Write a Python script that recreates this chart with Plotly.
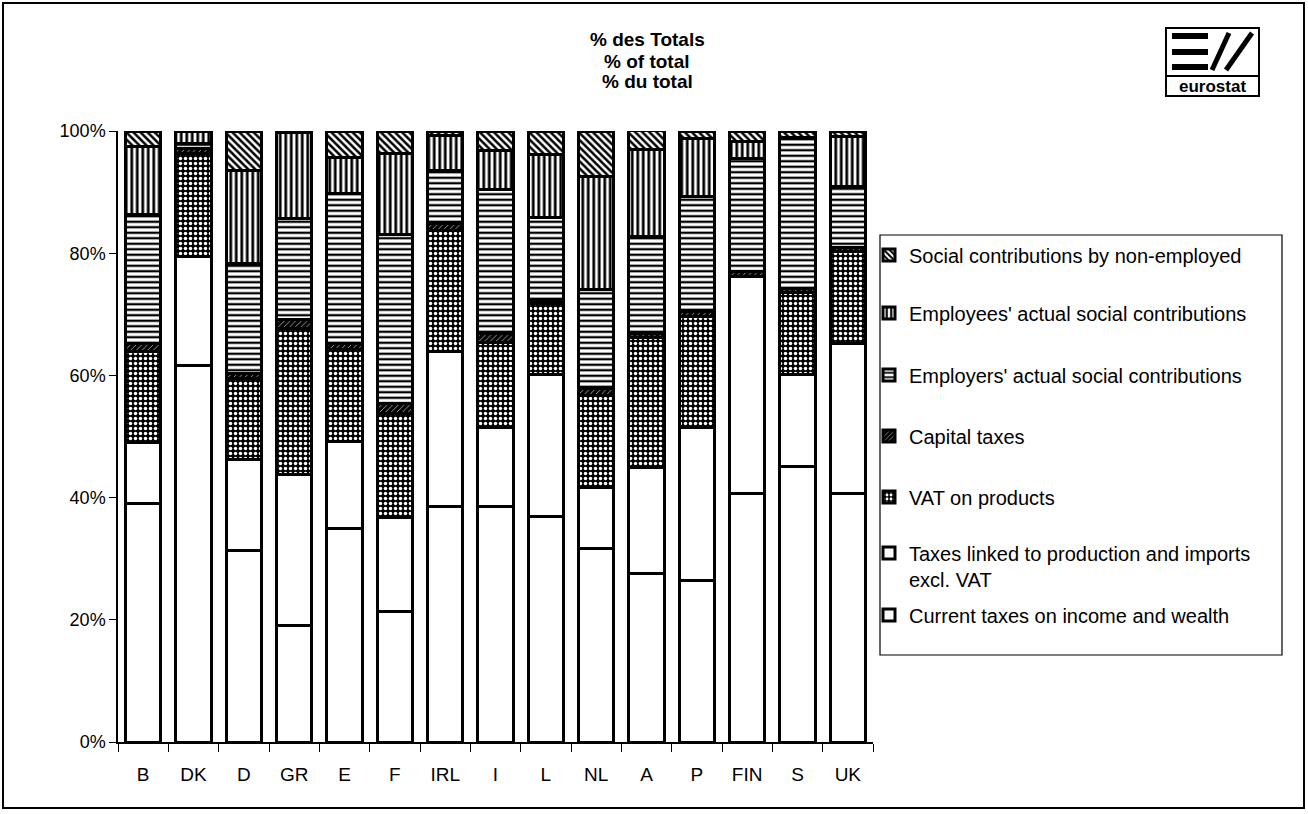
import plotly.graph_objects as go

# ---------------- data (percent of total) ----------------
countries = ["B", "DK", "D", "GR", "E", "F", "IRL", "I", "L", "NL", "A", "P", "FIN", "S", "UK"]

income_wealth   = [39.1, 61.7, 31.4, 19.1, 35.0, 21.3, 38.5, 38.5, 36.9, 31.7, 27.6, 26.5, 40.7, 45.1, 40.7]
prod_imports    = [10.0, 17.7, 14.8, 24.6, 14.2, 15.5, 25.4, 13.0, 23.3, 10.0, 17.3, 25.0, 35.5, 15.0, 24.5]
vat_products    = [14.8, 17.0, 13.3, 24.0, 15.0, 17.0, 19.8, 13.9, 11.5, 15.0, 21.3, 18.1, 0.0, 13.5, 15.0]
capital_taxes   = [1.4, 0.8, 0.8, 1.4, 1.0, 1.6, 1.2, 1.4, 0.5, 1.2, 0.6, 0.8, 0.8, 0.6, 0.8]
employers_contr = [21.0, 0.8, 18.0, 16.6, 24.6, 27.6, 8.6, 23.7, 13.6, 16.1, 16.0, 18.8, 18.5, 24.6, 9.9]
employees_contr = [11.1, 2.0, 15.3, 14.0, 5.9, 13.4, 5.8, 6.3, 10.4, 18.5, 14.2, 9.6, 2.8, 0.2, 8.2]
nonemployed     = [2.6, 0.0, 6.4, 0.3, 4.3, 3.6, 0.7, 3.2, 3.8, 7.5, 3.1, 1.2, 1.7, 1.0, 0.9]

series_names = [
    "Current taxes on income and wealth",
    "Taxes linked to production and imports<br>excl. VAT",
    "VAT on products",
    "Capital taxes",
    "Employers' actual social contributions",
    "Employees' actual social contributions",
    "Social contributions by non-employed",
]
series_values = [income_wealth, prod_imports, vat_products, capital_taxes,
                 employers_contr, employees_contr, nonemployed]

y_tick_vals = [0, 20, 40, 60, 80, 100]
y_tick_text = ["0%", "20%", "40%", "60%", "80%", "100%"]

title_lines = ["% des Totals", "% of total", "% du total"]

# pattern styles (shape, fg, bg, size, solidity)
styles = [
    ("", "black", "white", 6, 0.3),
    ("", "black", "white", 6, 0.3),
    (".", "white", "black", 5, 0.38),
    ("/", "white", "black", 4, 0.15),
    ("-", "black", "white", 5.5, 0.42),
    ("|", "black", "white", 5.5, 0.5),
    ("\\", "black", "white", 5, 0.5),
]

FONT = "Arial, 'Liberation Sans', Helvetica, sans-serif"

# plot-area pixel geometry
L, R, T, B = 118, 873, 131, 742
W, H = 1308, 814


def px(x):
    return (x - L) / (R - L)


def py(y):
    return (B - y) / (B - T)


# legend entry centres (pixels) for each series, bottom series first
legend_centres = [615, 566, 497, 436, 375, 313, 255]
legend_keys = ["legend", "legend2", "legend3", "legend4", "legend5", "legend6", "legend7"]

fig = go.Figure()
for i, (name, vals, st) in enumerate(zip(series_names, series_values, styles)):
    shape, fg, bg, size, sol = st
    marker = dict(color="white", line=dict(color="black", width=3))
    if shape:
        marker["pattern"] = dict(shape=shape, fgcolor=fg, bgcolor=bg, size=size,
                                 solidity=sol, fillmode="replace")
    fig.add_trace(go.Bar(x=countries, y=vals, name=name, marker=marker,
                         legend=legend_keys[i]))

legend_layout = {}
for i, key in enumerate(legend_keys):
    legend_layout[key] = dict(
        x=px(869), y=py(legend_centres[i]), xanchor="left", yanchor="middle",
        bgcolor="rgba(0,0,0,0)", borderwidth=0, valign="top",
        font=dict(family=FONT, size=20, color="black"), itemclick=False,
    )

shapes = []
# outer frame
shapes.append(dict(type="rect", xref="paper", yref="paper",
                   x0=px(3), x1=px(1304), y0=py(808), y1=py(3),
                   line=dict(color="black", width=2), layer="below"))
# legend frame
shapes.append(dict(type="rect", xref="paper", yref="paper",
                   x0=px(880), x1=px(1282), y0=py(655), y1=py(235),
                   line=dict(color="black", width=1.2), layer="below"))
# eurostat logo
shapes.append(dict(type="rect", xref="paper", yref="paper",
                   x0=px(1166), x1=px(1259), y0=py(96), y1=py(28),
                   line=dict(color="black", width=2)))
shapes.append(dict(type="line", xref="paper", yref="paper",
                   x0=px(1166), x1=px(1259), y0=py(76), y1=py(76),
                   line=dict(color="black", width=2)))
for yy in (36, 52, 67):
    shapes.append(dict(type="line", xref="paper", yref="paper",
                       x0=px(1172), x1=px(1208), y0=py(yy), y1=py(yy),
                       line=dict(color="black", width=6)))
shapes.append(dict(type="line", xref="paper", yref="paper",
                   x0=px(1212), x1=px(1229), y0=py(70), y1=py(33),
                   line=dict(color="black", width=5)))
shapes.append(dict(type="line", xref="paper", yref="paper",
                   x0=px(1226), x1=px(1252), y0=py(70), y1=py(33),
                   line=dict(color="black", width=5)))

annotations = []
for line_text, yc in zip(title_lines, (40, 61, 82)):
    annotations.append(dict(text="<b>%s</b>" % line_text, xref="paper", yref="paper",
                            x=px(647), y=py(yc), xanchor="center", yanchor="middle",
                            showarrow=False, font=dict(family=FONT, size=19, color="black")))
annotations.append(dict(text="<b>eurostat</b>", xref="paper", yref="paper",
                        x=px(1212), y=py(86), xanchor="center", yanchor="middle",
                        showarrow=False, font=dict(family=FONT, size=17, color="black")))

fig.update_layout(
    width=W, height=H,
    margin=dict(l=L, r=W - R, t=T, b=H - B, pad=0),
    barmode="stack", bargap=0.3,
    paper_bgcolor="white", plot_bgcolor="white",
    font=dict(family=FONT, size=18, color="black"),
    showlegend=True,
    shapes=shapes, annotations=annotations,
    xaxis=dict(showline=True, linecolor="black", linewidth=1.5, ticks="outside",
               tickson="boundaries", ticklen=8, tickcolor="black",
               ticklabelstandoff=14, showgrid=False,
               tickfont=dict(family=FONT, size=19)),
    yaxis=dict(range=[0, 100], tickvals=y_tick_vals, ticktext=y_tick_text,
               showline=True, linecolor="black", linewidth=1.5, ticks="outside",
               ticklen=7, tickcolor="black", showgrid=False, zeroline=False,
               tickfont=dict(family=FONT, size=18)),
    **legend_layout,
)

fig.write_html("out.html", include_plotlyjs=True, config={"displayModeBar": False},
               post_script="document.body.style.margin='0';document.body.style.overflow='hidden';")
